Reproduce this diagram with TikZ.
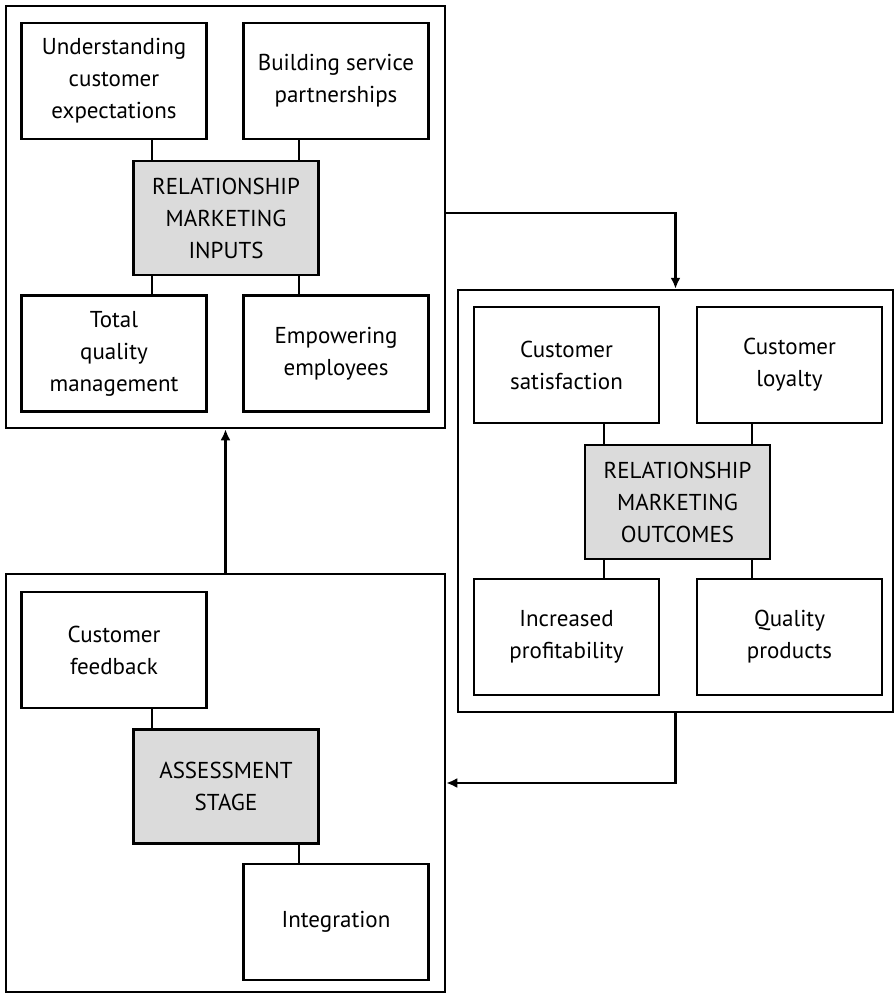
\documentclass[tikz,border=0pt]{standalone}
\usepackage{fontspec}
\setmainfont{PT Sans}
\usetikzlibrary{arrows.meta}
\tikzset{
  box/.style={draw, line width=2.5pt, fill=white, minimum width=185pt, minimum height=116pt, align=center, inner sep=0pt, font=\fontsize{23}{32}\selectfont},
  hub/.style={box, fill=black!14, minimum height=114pt},
  group/.style={draw, line width=2.5pt, inner sep=0pt},
  link/.style={line width=2.5pt},
  arr/.style={line width=2.5pt, -{Latex[length=11pt,width=10pt]}}
}
\begin{document}
\begin{tikzpicture}[x=1pt,y=-1pt]
		\useasboundingbox (0,0) rectangle (894,995);
		% group frames
		\node [group, minimum width=439pt, minimum height=422pt] (ginp) at (225.5,217) {};
		\node [group, minimum width=435pt, minimum height=422pt] (gout) at (675.5,501) {};
		\node [group, minimum width=439pt, minimum height=418pt] (gass) at (225.5,783) {};
		% inputs
		\node [box] (uce) at (114,81) {Understanding\\customer\\expectations};
		\node [box] (bsp) at (336,81) {Building service\\partnerships};
		\node [hub] (inp) at (226,218) {RELATIONSHIP\\MARKETING\\INPUTS};
		\node [box] (tqm) at (114,353.5) {Total\\quality\\management};
		\node [box] (emp) at (336,353.5) {Empowering\\employees};
		% outcomes
		\node [box] (sat) at (566.5,365) {Customer\\satisfaction};
		\node [box] (loy) at (789.5,365) {Customer\\loyalty};
		\node [hub] (out) at (677.5,502) {RELATIONSHIP\\MARKETING\\OUTCOMES};
		\node [box] (prof) at (566.5,637) {Increased\\profitability};
		\node [box] (qual) at (789.5,637) {Quality\\products};
		% assessment
		\node [box] (fb) at (114,650) {Customer\\feedback};
		\node [hub] (ass) at (226,786.5) {ASSESSMENT\\STAGE};
		\node [box] (integ) at (336,922) {Integration};
		% links
		\coordinate (la) at (152,0);
		\coordinate (lb) at (299,0);
		\coordinate (lc) at (604,0);
		\coordinate (ld) at (752,0);
		\draw [link] (uce.south -| la) -- (inp.north -| la);
		\draw [link] (bsp.south -| lb) -- (inp.north -| lb);
		\draw [link] (tqm.north -| la) -- (inp.south -| la);
		\draw [link] (emp.north -| lb) -- (inp.south -| lb);
		\draw [link] (sat.south -| lc) -- (out.north -| lc);
		\draw [link] (loy.south -| ld) -- (out.north -| ld);
		\draw [link] (prof.north -| lc) -- (out.south -| lc);
		\draw [link] (qual.north -| ld) -- (out.south -| ld);
		\draw [link] (fb.south -| la) -- (ass.north -| la);
		\draw [link] (integ.north -| lb) -- (ass.south -| lb);
		% flow
		\draw [arr] (ginp.east |- 0,213) -| (gout.north);
		\draw [arr] (gout.south) |- (gass.east);
		\draw [arr] (gass.north) -- (ginp.south);
\end{tikzpicture}
\end{document}
